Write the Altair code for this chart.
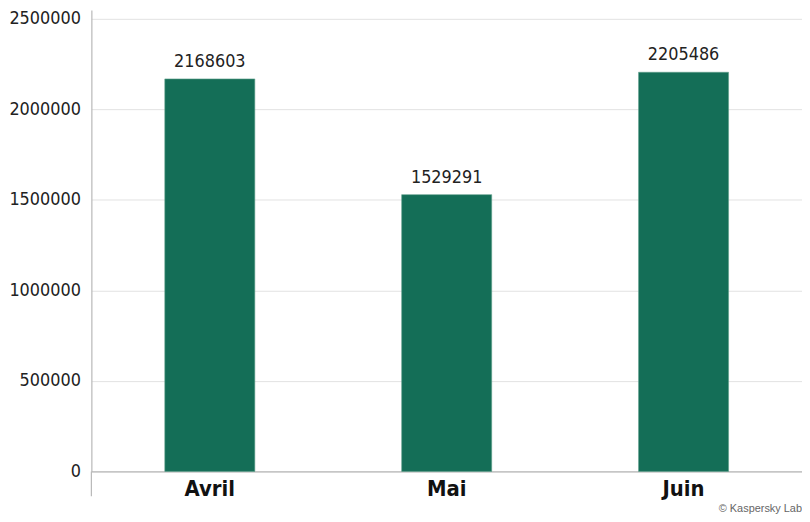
import pandas as pd
import altair as alt

OUTPUT_FILE = "out.html"

FONT = "DejaVu Sans Condensed, sans-serif"
GREEN = "#146E57"
GRID = "#E2E2E2"
AXIS = "#B8B8B8"

months = ["Avril", "Mai", "Juin"]
values = [2168603, 1529291, 2205486]
y_ticks = [0, 500000, 1000000, 1500000, 2000000, 2500000]

W, H = 716, 465

df = pd.DataFrame({"Mois": months, "Valeur": values})

base = alt.Chart(df).encode(
    x=alt.X(
        "Mois:N",
        sort=months,
        title=None,
        scale=alt.Scale(paddingInner=0.62, paddingOuter=0.31),
        axis=alt.Axis(
            labelAngle=0, labelFont=FONT, labelFontSize=22, labelFontWeight="bold",
            labelColor="#111", labelPadding=7, ticks=False,
            domainColor=AXIS, domainWidth=1.2, grid=False,
        ),
    ),
    y=alt.Y(
        "Valeur:Q",
        title=None,
        scale=alt.Scale(domain=[0, 2550000], nice=False),
        axis=alt.Axis(
            values=y_ticks, format="d", labelFont=FONT, labelFontSize=18,
            labelColor="#222", labelPadding=11, ticks=False,
            domainColor=AXIS, domainWidth=1.2, gridColor=GRID, gridWidth=1,
        ),
    ),
)

bars = base.mark_bar(color=GREEN, stroke="#5E9E8A", strokeWidth=0.6)

labels = base.mark_text(
    baseline="bottom", dy=-8, font=FONT, fontSize=18, color="#222"
).encode(text=alt.Text("Valeur:Q", format="d"))

# y axis line continues below the zero line
axis_tail = (
    alt.Chart(pd.DataFrame({"a": [0]}))
    .mark_rule(color=AXIS, strokeWidth=1.2)
    .encode(x=alt.value(0), y=alt.value(H), y2=alt.value(H + 25))
)

chart = (
    (bars + labels + axis_tail)
    .properties(
        width=W,
        height=H,
        padding=0,
        title=alt.TitleParams(
            "© Kaspersky Lab", orient="bottom", anchor="end",
            font="Liberation Sans, sans-serif", fontSize=11, fontWeight="normal",
            color="#666", offset=4,
        ),
    )
    .configure_view(strokeWidth=0)
)

chart.save(OUTPUT_FILE, embed_options={"renderer": "svg", "actions": False})
